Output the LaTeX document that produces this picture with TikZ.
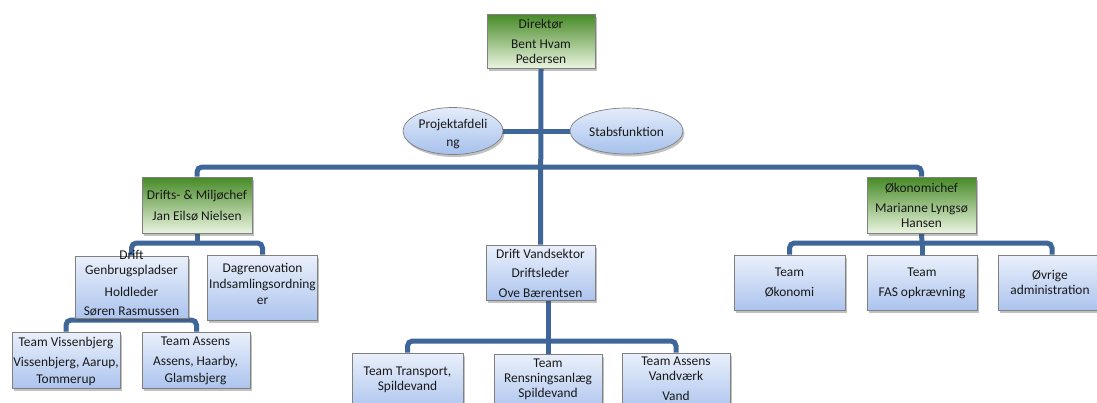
\documentclass[tikz,border=0pt]{standalone}
\usepackage{fontspec}
\setmainfont{Carlito}
\usetikzlibrary{shapes.geometric,shadows,backgrounds}
\definecolor{linec}{RGB}{62,102,152}
\definecolor{bordc}{RGB}{128,128,128}
\definecolor{btop}{RGB}{234,240,251}
\definecolor{bbot}{RGB}{172,196,238}
\definecolor{gtop}{RGB}{70,138,38}
\definecolor{gbot}{RGB}{234,244,224}
\definecolor{etop}{RGB}{228,236,250}
\definecolor{ebot}{RGB}{166,193,236}
\definecolor{txtc}{RGB}{25,25,25}
\begin{document}
\begin{tikzpicture}[x=1pt,y=-1pt,
  conn/.style={draw=linec, line width=5pt, rounded corners=5pt},
  shad/.style={drop shadow={shadow xshift=1.5pt, shadow yshift=-2.5pt, opacity=0.35, fill=black!70}},
  bbox/.style={rectangle, draw=bordc, line width=0.7pt, top color=btop, bottom color=bbot, inner sep=0pt, shad},
  gbox/.style={rectangle, draw=bordc, line width=0.7pt, top color=gtop, bottom color=gbot, inner sep=0pt, shad},
  ebox/.style={ellipse, draw=bordc, line width=0.7pt, top color=etop, bottom color=ebot, inner sep=0pt, shad},
  txt/.style={align=center, inner sep=0pt, text=txtc, font=\fontsize{13.4}{15}\selectfont}
]
\useasboundingbox (0,0) rectangle (1097,402);
\clip (0,0) rectangle (1097,402);
% boxes
\node[gbox, minimum width=108pt, minimum height=54pt] (dir) at (541,41) {};
\node[ebox, minimum width=100pt, minimum height=47pt] (proj) at (453,131) {};
\node[ebox, minimum width=113pt, minimum height=46pt] (stab) at (626.5,131) {};
\node[gbox, minimum width=110pt, minimum height=56pt] (drm) at (197,205) {};
\node[gbox, minimum width=109pt, minimum height=56pt] (oko) at (921.5,205) {};
\node[bbox, minimum width=113pt, minimum height=62pt] (gen) at (131.5,287) {};
\node[bbox, minimum width=110pt, minimum height=65pt] (dag) at (262.5,287.5) {};
\node[bbox, minimum width=109pt, minimum height=55pt] (dvs) at (540.5,272.5) {};
\node[bbox, minimum width=111pt, minimum height=55pt] (t1) at (789.5,282.5) {};
\node[bbox, minimum width=110pt, minimum height=55pt] (t2) at (922,282.5) {};
\node[bbox, minimum width=108pt, minimum height=55pt] (t3) at (1052,282.5) {};
\node[bbox, minimum width=108pt, minimum height=56pt] (tv) at (66,360) {};
\node[bbox, minimum width=108pt, minimum height=56pt] (ta) at (196.5,360) {};
\node[bbox, minimum width=111pt, minimum height=58pt] (tt) at (407.5,382) {};
\node[bbox, minimum width=108pt, minimum height=58pt] (tr) at (548,383) {};
\node[bbox, minimum width=108pt, minimum height=58pt] (tav) at (676,382) {};
% texts
\node[txt] (dirt) at (541,41.5) {Direktør\\[5pt]Bent Hvam\\Pedersen};
\node[txt] (projt) at (453,134) {Projektafdeli\\[3pt]ng};
\node[txt] (stabt) at (626.5,132) {Stabsfunktion};
\node[txt] (drmt) at (197,205.5) {Drifts- \& Miljøchef\\[6pt]Jan Eilsø Nielsen};
\node[txt] (okot) at (921.5,205) {Økonomichef\\[5pt]Marianne Lyngsø\\Hansen};
\node[txt] (gent) at (131.5,283) {Drift\\Genbrugspladser\\[7pt]Holdleder\\[4pt]Søren Rasmussen};
\node[txt] (dagt) at (262.5,284) {Dagrenovation\\[1pt]Indsamlingsordning\\[1pt]er};
\node[txt] (dvst) at (540.5,273.5) {Drift Vandsektor\\[4pt]Driftsleder\\[5pt]Ove Bærentsen};
\node[txt] (t1t) at (789.5,283) {Team\\[5pt]Økonomi};
\node[txt] (t2t) at (922,283) {Team\\[5pt]FAS opkrævning};
\node[txt] (t3t) at (1050,282) {Øvrige\\administration};
\node[txt] (tvt) at (66,361) {Team Vissenbjerg\\[5pt]Vissenbjerg, Aarup,\\[2pt]Tommerup};
\node[txt] (tat) at (195.5,361) {Team Assens\\[5pt]Assens, Haarby,\\[2pt]Glamsbjerg};
\node[txt] (ttt) at (407.5,379.5) {Team Transport,\\Spildevand};
\node[txt] (trt) at (548,379) {Team\\Rensningsanlæg\\Spildevand};
\node[txt] (tavt) at (676,379) {Team Assens\\Vandværk\\[5pt]Vand};
% connectors
\coordinate (bar0) at (541,167);
\coordinate (bar1) at (197,243);
\coordinate (bar2) at (131.5,320);
\coordinate (bar3) at (922,243);
\coordinate (bar4) at (548,341);
\begin{scope}[on background layer]
\draw[conn] (dir.south) -- (dvs.north);
\draw[conn] (proj.east) -- (proj.east -| dir.south);
\draw[conn] (stab.west) -- (stab.west -| dir.south);
\draw[conn] (drm.north) |- (bar0) -| (oko.north);
\draw[conn] (drm.south) -- (bar1);
\draw[conn] (gen.north) |- (bar1) -| (dag.north);
\draw[conn] (gen.south) -- (bar2);
\draw[conn] (tv.north) |- (bar2) -| (ta.north);
\draw[conn] (oko.south) -- (bar3);
\draw[conn] (t1.north) |- (bar3) -| (t3.north);
\draw[conn] (bar3) -- (t2.north);
\draw[conn] (dvs.south -| bar4) -- (bar4) -- (tr.north);
\draw[conn] (tt.north) |- (bar4) -| (tav.north);
\end{scope}
\end{tikzpicture}
\end{document}
